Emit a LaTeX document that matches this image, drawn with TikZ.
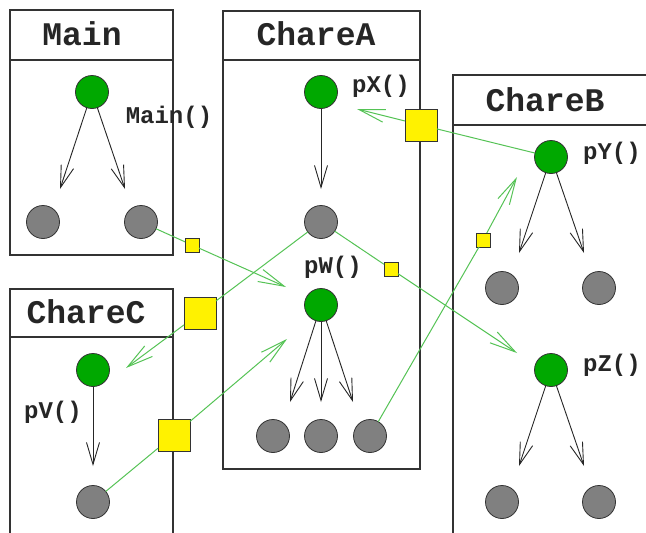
\documentclass[tikz,border=0pt]{standalone}
\usepackage{fontspec}
\setmonofont{Liberation Mono}
\usetikzlibrary{arrows.meta}
\definecolor{procgreen}{RGB}{0,168,0}
\definecolor{objgray}{RGB}{128,128,128}
\definecolor{msggreen}{RGB}{85,195,85}
\tikzset{
  chare/.style={draw=black!80, line width=1.3pt, fill=white},
  title/.style={font=\ttfamily\bfseries\fontsize{33}{33}\selectfont, text=black!85, inner sep=0},
  method/.style={font=\ttfamily\bfseries\fontsize{24}{24}\selectfont, text=black!85, inner sep=0},
  entry/.style={circle, draw=black!80, line width=0.8pt, fill=procgreen, minimum size=33pt, inner sep=0, outer sep=0},
  obj/.style={circle, draw=black!80, line width=0.8pt, fill=objgray, minimum size=33pt, inner sep=0, outer sep=0},
  call/.style={draw=black!85, line width=0.9pt, -{Straight Barb[length=22pt,width=13pt]}},
  msg/.style={draw=msggreen, line width=1pt, -{Straight Barb[length=26pt,width=13pt]}},
  bigq/.style={draw=black!80, line width=1pt, fill=yellow, minimum size=32pt, inner sep=0, outer sep=0},
  smallq/.style={draw=black!80, line width=1pt, fill=yellow, minimum size=14pt, inner sep=0, outer sep=0},
}
\begin{document}
\begin{tikzpicture}[x=1pt,y=-1pt]
\useasboundingbox (0,0) rectangle (646,533);
\clip (0,0) rectangle (646,533);

% chare boxes with header bands
\draw[chare] (10,10) rectangle (173,255);
\draw[chare] (10,60) -- (173,60);
\draw[chare] (223,11) rectangle (420,469);
\draw[chare] (223,60) -- (420,60);
\draw[chare] (453,75) rectangle (660,560);
\draw[chare] (453,125) -- (660,125);
\draw[chare] (10,289) rectangle (173,560);
\draw[chare] (10,337) -- (173,337);

\node[title] (tMain) at (82,34) {Main};
\node[title] (tA) at (316,34) {ChareA};
\node[title] (tB) at (545,100) {ChareB};
\node[title] (tC) at (86,312) {ChareC};

% entry methods and objects
\node[entry] (main) at (92,92) {};
\node[obj] (m1) at (43,222) {};
\node[obj] (m2) at (141,222) {};

\node[entry] (px) at (321,92) {};
\node[obj] (a1) at (321,222) {};
\node[entry] (pw) at (321,305) {};
\node[obj] (w1) at (273,436) {};
\node[obj] (w2) at (321,436) {};
\node[obj] (w3) at (370,436) {};

\node[entry] (py) at (551,157) {};
\node[obj] (y1) at (502,288) {};
\node[obj] (y2) at (599,288) {};
\node[entry] (pz) at (551,370) {};
\node[obj] (z1) at (502,502) {};
\node[obj] (z2) at (599,502) {};

\node[entry] (pv) at (93,370) {};
\node[obj] (v1) at (93,502) {};

% method labels
\node[method] (lMain) at (169,117) {Main()};
\node[method] (lX) at (381,86) {pX()};
\node[method] (lW) at (333,267) {pW()};
\node[method] (lY) at (612,153) {pY()};
\node[method] (lZ) at (612,365) {pZ()};
\node[method] (lV) at (53,412) {pV()};

% local call arrow ends
\coordinate (cm1) at (60,189);
\coordinate (cm2) at (125,189);
\coordinate (cx) at (321,189);
\coordinate (cw1) at (290,402);
\coordinate (cw2) at (321,402);
\coordinate (cw3) at (353,402);
\coordinate (cy1) at (519,253);
\coordinate (cy2) at (584,253);
\coordinate (cz1) at (519,466);
\coordinate (cz2) at (584,466);
\coordinate (cv) at (93,466);

\draw[call] (main) -- (cm1);
\draw[call] (main) -- (cm2);
\draw[call] (px) -- (cx);
\draw[call] (pw) -- (cw1);
\draw[call] (pw) -- (cw2);
\draw[call] (pw) -- (cw3);
\draw[call] (py) -- (cy1);
\draw[call] (py) -- (cy2);
\draw[call] (pz) -- (cz1);
\draw[call] (pz) -- (cz2);
\draw[call] (pv) -- (cv);

% message queues
\node[smallq] (q1) at (192,245) {};
\node[bigq] (q2) at (200,313) {};
\node[bigq] (q3) at (174,435) {};
\node[smallq] (q4) at (391,269) {};
\node[smallq] (q5) at (483,240) {};
\node[bigq] (q6) at (421,125) {};

% remote message arrow ends
\coordinate (rw1) at (286,287);
\coordinate (rv) at (126,368);
\coordinate (rw2) at (287,339);
\coordinate (rz) at (517,353);
\coordinate (ry) at (517,177);
\coordinate (rx) at (357,109);

\draw[msg] (m2) -- (q1) -- (rw1);
\draw[msg] (a1) -- (q2) -- (rv);
\draw[msg] (v1) -- (q3) -- (rw2);
\draw[msg] (a1) -- (q4) -- (rz);
\draw[msg] (w3) -- (q5) -- (ry);
\draw[msg] (py) -- (q6) -- (rx);
\end{tikzpicture}
\end{document}
